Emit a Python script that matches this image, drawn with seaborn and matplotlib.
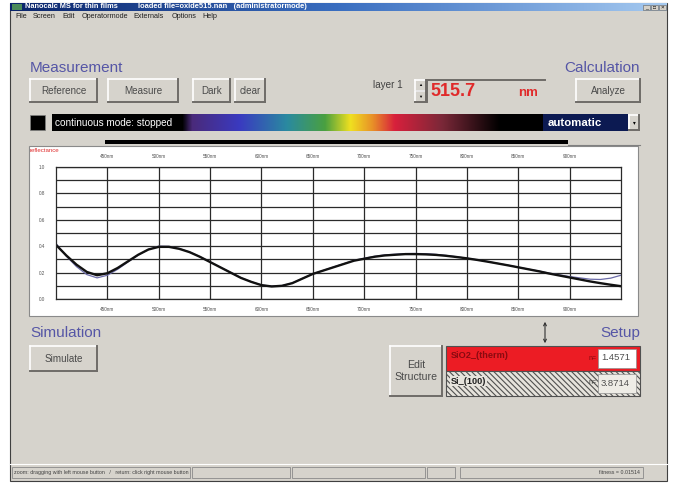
import numpy as np
import pandas as pd
import matplotlib
matplotlib.use("Agg")
import matplotlib.pyplot as plt
from matplotlib.patches import Rectangle
from matplotlib.colors import LinearSegmentedColormap
import seaborn as sns

# ---------------- data ----------------
wavelength_nm = [400, 410, 420, 430, 440, 450, 460, 470, 480, 490, 500, 510, 520, 530, 540,
                 550, 560, 570, 580, 590, 600, 610, 620, 630, 640, 650, 660, 670, 680, 690,
                 700, 710, 720, 730, 740, 750, 760, 770, 780, 790, 800, 810, 820, 830, 840,
                 850, 860, 870, 880, 890, 900, 910, 920, 930, 940, 950]
reflect_simulated = [0.41, 0.33, 0.26, 0.205, 0.18, 0.195, 0.235, 0.285, 0.335, 0.375, 0.395,
                     0.395, 0.38, 0.355, 0.32, 0.28, 0.24, 0.20, 0.16, 0.13, 0.105, 0.095, 0.10,
                     0.12, 0.155, 0.19, 0.215, 0.24, 0.265, 0.29, 0.305, 0.32, 0.33, 0.335, 0.34,
                     0.34, 0.338, 0.334, 0.327, 0.318, 0.308, 0.296, 0.283, 0.269, 0.255, 0.24,
                     0.225, 0.21, 0.193, 0.178, 0.163, 0.148, 0.133, 0.12, 0.108, 0.097]
reflect_measured = [0.42, 0.325, 0.245, 0.185, 0.16, 0.18, 0.225, 0.28, 0.333, 0.376, 0.40,
                    0.398, 0.382, 0.356, 0.321, 0.281, 0.241, 0.201, 0.161, 0.131, 0.106, 0.097,
                    0.101, 0.121, 0.156, 0.19, 0.216, 0.242, 0.267, 0.292, 0.308, 0.323, 0.334,
                    0.339, 0.344, 0.345, 0.343, 0.338, 0.33, 0.32, 0.309, 0.297, 0.284, 0.27,
                    0.256, 0.241, 0.226, 0.212, 0.196, 0.183, 0.17, 0.16, 0.15, 0.148, 0.158, 0.18]
x_tick_values = [450, 500, 550, 600, 650, 700, 750, 800, 850, 900]
x_tick_labels = ["450nm", "500nm", "550nm", "600nm", "650nm", "700nm", "750nm", "800nm", "850nm", "900nm"]
y_tick_values = [0.0, 0.2, 0.4, 0.6, 0.8, 1.0]
y_tick_labels = ["0.0", "0.2", "0.4", "0.6", "0.8", "1.0"]

layer_names = ["SiO2_(therm)", "Si_(100)"]
layer_n = ["1.4571", "3.8714"]

df = pd.DataFrame({
    "wavelength": wavelength_nm * 2,
    "reflectance": reflect_measured + reflect_simulated,
    "series": ["measured"] * len(wavelength_nm) + ["simulated"] * len(wavelength_nm),
})

# ---------------- figure ----------------
W, H = 673, 483
FONT = ["Liberation Sans", "DejaVu Sans"]
plt.rcParams["font.family"] = FONT
plt.rcParams["hatch.color"] = "#8a8a8a"
plt.rcParams["hatch.linewidth"] = 0.8

fig = plt.figure(figsize=(W / 100, H / 100), dpi=100)
fig.patch.set_facecolor("white")

ui = fig.add_axes([0, 0, 1, 1])
ui.set_xlim(0, W)
ui.set_ylim(H, 0)
ui.axis("off")

BG = "#d6d3cc"
TITLE_C = "#5656a6"

def rect(x0, y0, x1, y1, **kw):
    ui.add_patch(Rectangle((x0, y0), x1 - x0, y1 - y0, **kw))

def button(x0, y0, x1, y1, label=None, fs=7.1, face=BG):
    rect(x0, y0, x1, y1, facecolor=face, edgecolor="none")
    ui.plot([x0, x1], [y0, y0], color="white", lw=1.2)
    ui.plot([x0, x0], [y0, y1], color="white", lw=1.2)
    ui.plot([x0, x1], [y1, y1], color="#6f6c68", lw=1.4)
    ui.plot([x1, x1], [y0, y1], color="#6f6c68", lw=1.4)
    if label:
        ui.text((x0 + x1) / 2, (y0 + y1) / 2, label, ha="center", va="center",
                fontsize=fs, color="#4a4a4a", linespacing=1.3)

# window body
rect(10, 3, 667, 481, facecolor=BG, edgecolor="#404040", lw=0.8)

# title bar gradient
grad = np.linspace(0, 1, 256).reshape(1, -1)
tcmap = LinearSegmentedColormap.from_list("tb", ["#0a246a", "#3a6ec0", "#a6caf0"])
ui.imshow(grad, extent=(10, 667, 11, 3), cmap=tcmap, aspect="auto", zorder=1)
rect(12, 4, 22, 10, facecolor="#4a8a5a", edgecolor="none", zorder=2)
ui.text(25, 7, "Nanocalc MS for thin films", fontsize=5.3, color="white",
        fontweight="bold", va="center", zorder=3)
ui.text(138, 7, "loaded file=oxide515.nan   (administratormode)", fontsize=5.4,
        color="white", fontweight="bold", va="center", zorder=3)
for bx in (643, 651, 659):
    rect(bx, 4.5, bx + 7, 10, facecolor="#d4d0c8", edgecolor="#606060", lw=0.4, zorder=3)
ui.text(646.5, 7.5, "_", fontsize=4, ha="center", va="center", zorder=4)
ui.text(654.5, 7.5, "\u25a1", fontsize=3.5, ha="center", va="center", zorder=4)
ui.text(662.5, 7.5, "\u00d7", fontsize=4.5, ha="center", va="center", zorder=4)

# menu
for mx, m in zip([15, 33, 62, 82, 133, 172, 202],
                 ["File", "Screen", "Edit", "Operatormode", "Externals", "Options", "Help"]):
    ui.text(mx, 16, m, fontsize=5.2, color="#202020", va="center")

# Measurement section
ui.text(30, 68, "Measurement", fontsize=11, color=TITLE_C, va="center")
ui.text(640, 68, "Calculation", fontsize=11, color=TITLE_C, va="center", ha="right")
button(30, 79, 97, 102, "Reference")
button(108, 79, 178, 102, "Measure")
button(193, 79, 230, 102, "Dark")
button(235, 79, 265, 102, "clear")
button(576, 79, 640, 102, "Analyze")
ui.text(373, 85, "layer 1", fontsize=7.1, color="#404040", va="center")
button(415, 80, 426, 90.5)
button(415, 91, 426, 101.5)
ui.text(420.5, 85, "\u25b2", fontsize=3, ha="center", va="center")
ui.text(420.5, 96.5, "\u25bc", fontsize=3, ha="center", va="center")
rect(427, 80, 545, 102, facecolor=BG, edgecolor="none")
ui.plot([427, 545], [80, 80], color="#6f6c68", lw=1.4)
ui.plot([427, 427], [80, 102], color="#6f6c68", lw=1.4)
ui.text(430, 91, "515.7", fontsize=13, color="#e02a2a", fontweight="bold", va="center")
ui.text(518, 92.5, "nm", fontsize=9.5, color="#e02a2a", fontweight="bold", va="center")

# spectrum bar
rect(30, 115, 45, 130, facecolor="black", edgecolor="#808080", lw=0.5)
rect(52, 114, 628, 131, facecolor="black", edgecolor="none")
scmap = LinearSegmentedColormap.from_list(
    "spec", [(0.0, "#000000"), (0.03, "#4a2a7a"), (0.18, "#3a3ac0"), (0.33, "#2a8aa0"),
             (0.45, "#4aa040"), (0.53, "#f0e020"), (0.60, "#e89028"), (0.67, "#d8203c"),
             (0.82, "#7a2838"), (1.0, "#000000")])
ui.imshow(np.linspace(0, 1, 512).reshape(1, -1), extent=(182, 500, 131, 114),
          cmap=scmap, aspect="auto", zorder=2)
ui.text(55, 122.5, "continuous mode: stopped", fontsize=7.2, color="white", va="center", zorder=3)
rect(543, 114, 628, 131, facecolor="#0c1a52", edgecolor="none", zorder=3)
ui.text(548, 122.5, "automatic", fontsize=8.2, color="white", fontweight="bold",
        va="center", zorder=4)
button(629, 115, 639, 130)
ui.text(634, 122.5, "\u25be", fontsize=4, ha="center", va="center", zorder=4)

# slider bar above plot
rect(105, 139.5, 568, 144, facecolor="black", edgecolor="none")
ui.plot([568, 640], [144.5, 144.5], color="#808080", lw=0.8)

# plot panel
rect(29, 146, 638, 316, facecolor="white", edgecolor="#8a8a8a", lw=0.8)
ui.text(30, 150, "reflectance", fontsize=4.4, color="#e03030", va="center")

# Simulation / Setup section
ui.text(30, 333, "Simulation", fontsize=11, color=TITLE_C, va="center")
ui.text(640, 333, "Setup", fontsize=11, color=TITLE_C, va="center", ha="right")
button(30, 346, 97, 371, "Simulate")
ui.annotate("", xy=(545, 319), xytext=(545, 346),
            arrowprops=dict(arrowstyle="<->", lw=0.8, color="#303030", mutation_scale=5))
button(390, 346, 442, 396, "Edit\nStructure", fs=7.6)
rect(446, 346, 640, 371, facecolor="#ec1c24", edgecolor="#505050", lw=0.8)
rect(446, 371, 640, 396, facecolor="#e6e3dc", edgecolor="#505050", lw=0.8,
     hatch="\\\\\\\\\\\\", zorder=1)
ui.text(451, 356, layer_names[0], fontsize=6.6, color="#8a0a10", fontweight="bold", va="center")
ui.text(451, 381, layer_names[1], fontsize=6.6, color="#202020", fontweight="bold", va="center",
        bbox=dict(facecolor="#e6e3dc", edgecolor="none", pad=0.5))
for yy, nv, c, face in [(358, layer_n[0], "#8a0a10", "white"),
                        (383, layer_n[1], "#404040", "#eeece6")]:
    ui.text(597, yy, "n=", fontsize=5, color=c, va="center", ha="right")
    rect(598, yy - 9.5, 636, yy + 9.5, facecolor=face, edgecolor="#909090", lw=0.5, zorder=3)
    ui.text(601, yy, nv, fontsize=6.8, color="#505050", va="center", zorder=4)

# status bar
ui.plot([10, 667], [464, 464], color="white", lw=0.8)
for sx0, sx1 in [(12, 190), (192, 290), (292, 425), (427, 455), (460, 643)]:
    rect(sx0, 467, sx1, 478, facecolor=BG, edgecolor="#8a8a8a", lw=0.6)
ui.text(14, 472.5, "zoom: dragging with left mouse button   /   return: click right mouse button",
        fontsize=3.8, color="#404040", va="center")
ui.text(640, 472.5, "fitness = 0.01514", fontsize=3.8, color="#404040", va="center", ha="right")

# ---------------- reflectance chart ----------------
pl, pr, pt, pb = 56, 621, 167, 299
ax = fig.add_axes([pl / W, 1 - pb / H, (pr - pl) / W, (pb - pt) / H])
ax.set_zorder(5)
ax.set_facecolor("white")
sns.lineplot(data=df, x="wavelength", y="reflectance", hue="series",
             hue_order=["measured", "simulated"],
             palette={"measured": "#6b6ba8", "simulated": "#111111"},
             size="series", sizes={"measured": 0.9, "simulated": 1.7},
             legend=False, ax=ax)
ax.set_xlim(400, 950)
ax.set_ylim(0, 1.0)
ax.set_xticks(x_tick_values)
ax.set_xticklabels(x_tick_labels)
ax.set_yticks(y_tick_values)
ax.set_yticklabels(y_tick_labels)
ax.set_yticks(np.arange(0.1, 1.0, 0.2), minor=True)
ax.grid(True, which="both", color="#2a2a2a", lw=0.9)
ax.set_axisbelow(True)
ax.tick_params(axis="both", which="both", length=0, labelsize=3.3, labelcolor="#505050")
ax.tick_params(axis="x", labeltop=True, pad=6)
ax.tick_params(axis="y", pad=8)
ax.set_xlabel("")
ax.set_ylabel("")
for s in ax.spines.values():
    s.set_color("#2a2a2a")
    s.set_linewidth(0.9)

fig.savefig("out.png", dpi=100, facecolor="white")
